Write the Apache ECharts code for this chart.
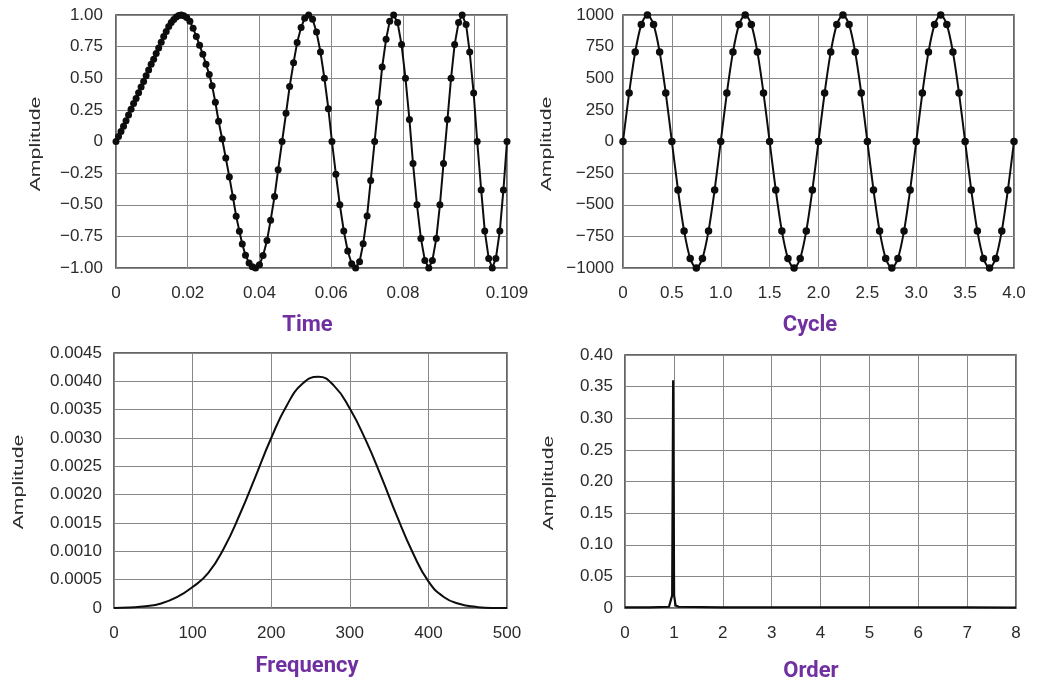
<!DOCTYPE html>
<html><head><meta charset="utf-8">
<script src="https://cdn.jsdelivr.net/npm/echarts@6/dist/echarts.min.js"></script>
<style>html,body{margin:0;padding:0;background:#fff}#c{width:1043px;height:684px}</style>
</head><body><div id="c"></div><script>
// ---------- DATA ----------
// Panel 1: time-domain signal [time (s), amplitude]
const timeSignal = [
 [0,0],[0.0007,0.04],[0.0014,0.08],[0.0021,0.12],[0.0028,0.165],[0.0035,0.21],[0.0042,0.255],[0.0049,0.30],
 [0.0056,0.34],[0.0063,0.385],[0.0070,0.43],[0.0077,0.475],[0.0084,0.52],[0.0091,0.565],[0.0098,0.61],[0.0105,0.65],
 [0.0112,0.695],[0.0119,0.74],[0.0126,0.785],[0.0133,0.83],[0.0140,0.87],[0.0147,0.91],[0.0154,0.94],[0.0161,0.965],
 [0.0168,0.985],[0.0175,0.997],[0.0182,1.0],
 [0.0189,0.995],[0.0197,0.98],[0.0206,0.95],[0.0215,0.895],[0.0224,0.83],[0.0233,0.76],[0.0242,0.69],[0.0251,0.61],
 [0.0260,0.53],[0.0268,0.44],[0.0277,0.31],[0.0286,0.16],[0.0296,0.02],[0.0306,-0.13],[0.0316,-0.28],[0.0326,-0.44],
 [0.0335,-0.59],[0.0344,-0.71],[0.0352,-0.81],[0.0361,-0.90],[0.0371,-0.96],[0.0380,-0.99],[0.0389,-1.0],
 [0.0400,-0.975],[0.0410,-0.901],[0.0421,-0.782],[0.0431,-0.623],[0.0442,-0.434],[0.0452,-0.223],[0.0463,0],
 [0.0474,0.223],[0.0484,0.434],[0.0495,0.623],[0.0505,0.782],[0.0516,0.901],[0.0526,0.975],[0.0537,1.0],
 [0.0548,0.966],[0.0559,0.866],[0.0570,0.707],[0.0581,0.5],[0.0592,0.259],[0.0602,0],[0.0613,-0.259],[0.0624,-0.5],
 [0.0635,-0.707],[0.0646,-0.866],[0.0657,-0.966],[0.0668,-1.0],
 [0.0679,-0.951],[0.0689,-0.809],[0.0700,-0.588],[0.0710,-0.309],[0.0721,0],[0.0732,0.309],[0.0742,0.588],
 [0.0753,0.809],[0.0763,0.951],[0.0774,1.0],
 [0.0785,0.940],[0.0796,0.766],[0.0807,0.5],[0.0818,0.174],[0.0828,-0.174],[0.0839,-0.5],[0.0850,-0.766],
 [0.0861,-0.940],[0.0872,-1.0],
 [0.0882,-0.940],[0.0893,-0.766],[0.0903,-0.5],[0.0913,-0.174],[0.0924,0.174],[0.0934,0.5],[0.0944,0.766],
 [0.0955,0.940],[0.0965,1.0],
 [0.0976,0.924],[0.0986,0.707],[0.0997,0.383],[0.1007,0],[0.1018,-0.383],[0.1028,-0.707],[0.1039,-0.924],[0.1049,-1.0],
 [0.1059,-0.924],[0.1070,-0.707],[0.1080,-0.383],[0.1090,0]
];
// Panel 2: angle-domain (resampled) signal [cycle, amplitude]
const cycleSignal = [
 [0,0],[0.0625,383],[0.125,707],[0.1875,924],[0.25,1000],[0.3125,924],[0.375,707],[0.4375,383],
 [0.5,0],[0.5625,-383],[0.625,-707],[0.6875,-924],[0.75,-1000],[0.8125,-924],[0.875,-707],[0.9375,-383],
 [1,0],[1.0625,383],[1.125,707],[1.1875,924],[1.25,1000],[1.3125,924],[1.375,707],[1.4375,383],
 [1.5,0],[1.5625,-383],[1.625,-707],[1.6875,-924],[1.75,-1000],[1.8125,-924],[1.875,-707],[1.9375,-383],
 [2,0],[2.0625,383],[2.125,707],[2.1875,924],[2.25,1000],[2.3125,924],[2.375,707],[2.4375,383],
 [2.5,0],[2.5625,-383],[2.625,-707],[2.6875,-924],[2.75,-1000],[2.8125,-924],[2.875,-707],[2.9375,-383],
 [3,0],[3.0625,383],[3.125,707],[3.1875,924],[3.25,1000],[3.3125,924],[3.375,707],[3.4375,383],
 [3.5,0],[3.5625,-383],[3.625,-707],[3.6875,-924],[3.75,-1000],[3.8125,-924],[3.875,-707],[3.9375,-383],
 [4,0]
];
// Panel 3: frequency spectrum [Hz, amplitude]
const freqSpectrum = [
 [0,0],[20,0.00001],[40,0.00003],[60,0.00008],[80,0.00019],[100,0.00037],[120,0.00062],[140,0.00106],
 [160,0.00165],[180,0.00232],[200,0.00300],[220,0.00358],[240,0.00396],[260,0.00408],[280,0.00392],
 [300,0.00352],[320,0.00297],[340,0.00232],[360,0.00162],[380,0.00098],[400,0.00047],[420,0.00019],
 [440,0.00007],[460,0.00002],[480,0],[500,0]
];
// Panel 4: order spectrum [order, amplitude]
const orderSpectrum = [
 [0,0.001],[0.5,0.001],[0.9,0.002],[0.94,0.004],[0.965,0.02],[0.985,0.36],[1.005,0.02],[1.035,0.004],
 [1.1,0.002],[2,0.001],[3,0.001],[4,0.001],[5,0.001],[6,0.001],[7,0.001],[8,0.0005]
];
// Axis / panel text
const panelTitles = ['Time', 'Cycle', 'Frequency', 'Order'];
const yName = 'Amplitude';

// ---------- CHART ----------
const FONT = "'Liberation Sans', Arial, Helvetica, sans-serif";
const TXT = '#2b2b2b';
const INK = '#0d0d0d';
const neg = s => s.replace('-', '\u2212');

function xAxisCfg(gi, min, max, interval, fmt) {
  return {
    gridIndex: gi, type: 'value', min, max, interval,
    axisLine: {show: false}, axisTick: {show: false},
    splitLine: {show: true, lineStyle: {color: '#888888', width: 1}},
    axisLabel: {margin: 17, color: TXT, fontSize: 17, fontFamily: FONT,
      showMinLabel: true, showMaxLabel: true, formatter: fmt}
  };
}
function yAxisCfg(gi, min, max, interval, fmt, margin) {
  return {
    gridIndex: gi, type: 'value', min, max, interval,
    axisLine: {show: false}, axisTick: {show: false},
    splitLine: {show: true, lineStyle: {color: '#888888', width: 1}},
    axisLabel: {margin: margin, color: TXT, fontSize: 17, fontFamily: FONT,
      showMinLabel: true, showMaxLabel: true, formatter: fmt}
  };
}
const near = (a, b) => Math.abs(a - b) < 1e-9;

const grids = [
  {left: 116, top: 15, width: 391, height: 253},
  {left: 623, top: 15, width: 391, height: 253},
  {left: 114, top: 353, width: 393, height: 255},
  {left: 625, top: 355, width: 391, height: 253}
].map(g => Object.assign(g, {show: true, borderColor: '#333333', borderWidth: 1.5, containLabel: false}));

const titleStyle = {font: 'bold 22px Roboto, sans-serif', fill: '#7030a0', textAlign: 'center', textVerticalAlign: 'middle'};
const nameStyle = {font: '15px ' + FONT, fill: TXT, textAlign: 'center', textVerticalAlign: 'middle'};

const option = {
  animation: false,
  backgroundColor: '#ffffff',
  grid: grids,
  xAxis: [
    xAxisCfg(0, 0, 0.109, 0.02, v => near(v, 0) ? '0' : (near(v, 0.1) ? '' : (near(v, 0.109) ? '0.109' : v.toFixed(2)))),
    xAxisCfg(1, 0, 4, 0.5, v => near(v, 0) ? '0' : v.toFixed(1)),
    xAxisCfg(2, 0, 500, 100, v => String(v)),
    xAxisCfg(3, 0, 8, 1, v => String(v))
  ],
  yAxis: [
    yAxisCfg(0, -1, 1, 0.25, v => near(v, 0) ? '0' : neg(v.toFixed(2)), 13),
    yAxisCfg(1, -1000, 1000, 250, v => neg(String(v)), 9),
    yAxisCfg(2, 0, 0.0045, 0.0005, v => near(v, 0) ? '0' : v.toFixed(4), 12),
    yAxisCfg(3, 0, 0.4, 0.05, v => near(v, 0) ? '0' : v.toFixed(2), 12)
  ],
  series: [
    {type: 'line', xAxisIndex: 0, yAxisIndex: 0, data: timeSignal, showSymbol: true, symbol: 'circle', symbolSize: 7,
     itemStyle: {color: INK}, lineStyle: {color: INK, width: 2}},
    {type: 'line', xAxisIndex: 1, yAxisIndex: 1, data: cycleSignal, showSymbol: true, symbol: 'circle', symbolSize: 7.5,
     smooth: 0.3, itemStyle: {color: INK}, lineStyle: {color: INK, width: 2}},
    {type: 'line', xAxisIndex: 2, yAxisIndex: 2, data: freqSpectrum, showSymbol: false, smooth: 0.5,
     lineStyle: {color: INK, width: 2}},
    {type: 'line', xAxisIndex: 3, yAxisIndex: 3, data: orderSpectrum, showSymbol: false,
     lineStyle: {color: INK, width: 2.2}}
  ],
  graphic: [
    {type: 'text', x: 35.5, y: 144, rotation: Math.PI / 2, scaleX: 1.42, style: Object.assign({text: yName}, nameStyle)},
    {type: 'text', x: 547, y: 144, rotation: Math.PI / 2, scaleX: 1.42, style: Object.assign({text: yName}, nameStyle)},
    {type: 'text', x: 18.6, y: 482, rotation: Math.PI / 2, scaleX: 1.42, style: Object.assign({text: yName}, nameStyle)},
    {type: 'text', x: 549, y: 483, rotation: Math.PI / 2, scaleX: 1.42, style: Object.assign({text: yName}, nameStyle)},
    {type: 'text', x: 307.5, y: 325, style: Object.assign({text: panelTitles[0]}, titleStyle)},
    {type: 'text', x: 810, y: 325, style: Object.assign({text: panelTitles[1]}, titleStyle)},
    {type: 'text', x: 307, y: 666, style: Object.assign({text: panelTitles[2]}, titleStyle)},
    {type: 'text', x: 811, y: 671, style: Object.assign({text: panelTitles[3]}, titleStyle)}
  ]
};
const chart = echarts.init(document.getElementById('c'), null, {renderer: 'canvas'});
chart.setOption(option);
</script></body></html>
